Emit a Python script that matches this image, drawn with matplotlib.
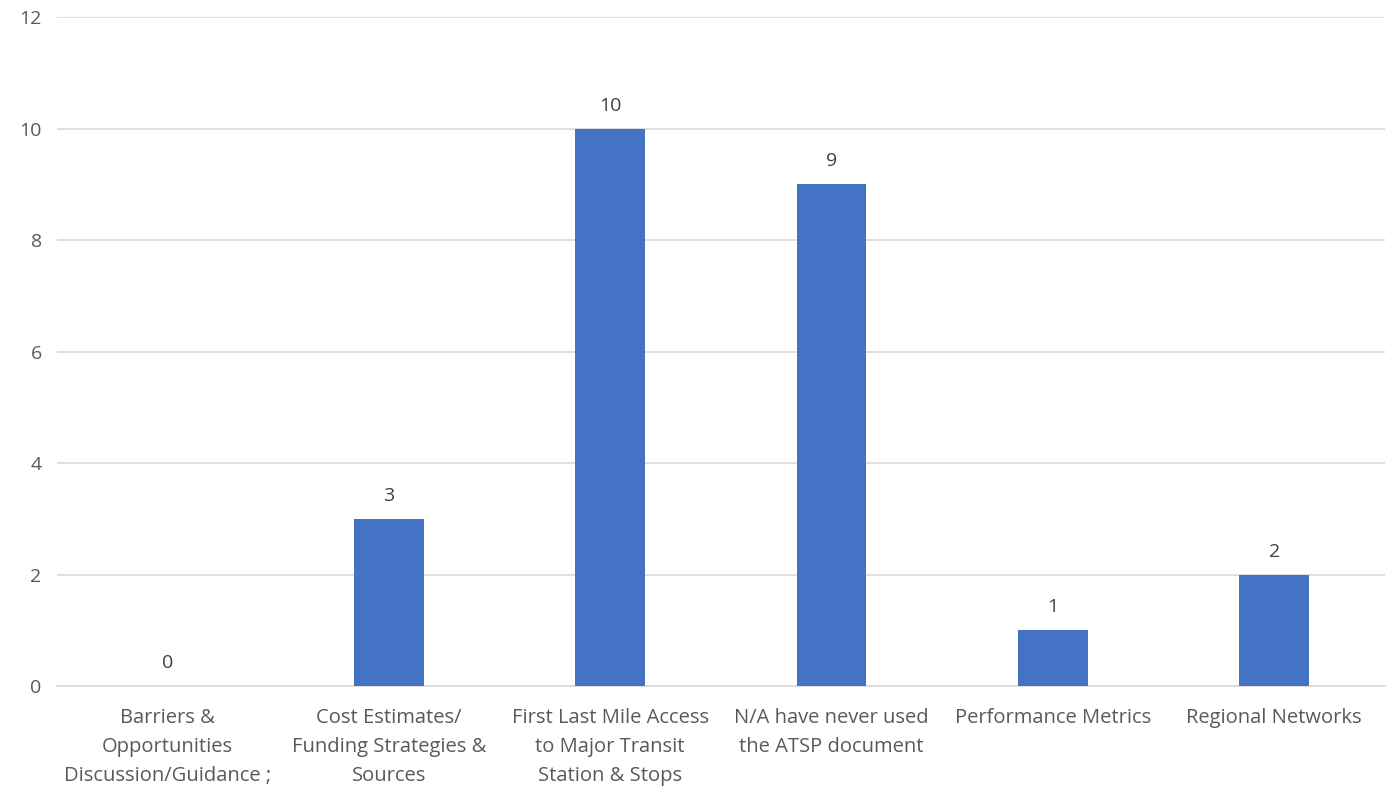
import matplotlib.pyplot as plt
import numpy as np

categories = [
    "Barriers &\nOpportunities\nDiscussion/Guidance ;",
    "Cost Estimates/\nFunding Strategies &\nSources",
    "First Last Mile Access\nto Major Transit\nStation & Stops",
    "N/A have never used\nthe ATSP document",
    "Performance Metrics",
    "Regional Networks",
]
counts = [0, 3, 10, 9, 1, 2]

plt.rcParams['font.family'] = ['Open Sans', 'DejaVu Sans']

fig = plt.figure(figsize=(13.89, 7.88), dpi=100)
ax = fig.add_axes([0.041, 0.1294, 0.956, 0.849])

x = np.arange(len(categories))
ax.bar(x, counts, width=0.315, color='#4472C4', zorder=3)

for xi, v in zip(x, counts):
    ax.text(xi, v + 0.25, str(v), ha='center', va='bottom', fontsize=14, color='#404040')

ax.set_ylim(0, 12)
ax.set_xlim(-0.5, len(categories) - 0.5)
ax.set_yticks(range(0, 13, 2))
ax.yaxis.grid(True, color='#D9D9D9', linewidth=1.2, zorder=0)
ax.set_xticks(x)
ax.set_xticklabels(categories, fontsize=14.5, color='#595959', linespacing=1.6)
ax.tick_params(axis='y', labelsize=14, labelcolor='#595959', length=0, pad=11)
ax.tick_params(axis='x', length=0, pad=16)

for s in ['top', 'right', 'left']:
    ax.spines[s].set_visible(False)
ax.spines['bottom'].set_color('#D9D9D9')
ax.spines['bottom'].set_linewidth(1.2)

fig.savefig('out.png', dpi=100)
